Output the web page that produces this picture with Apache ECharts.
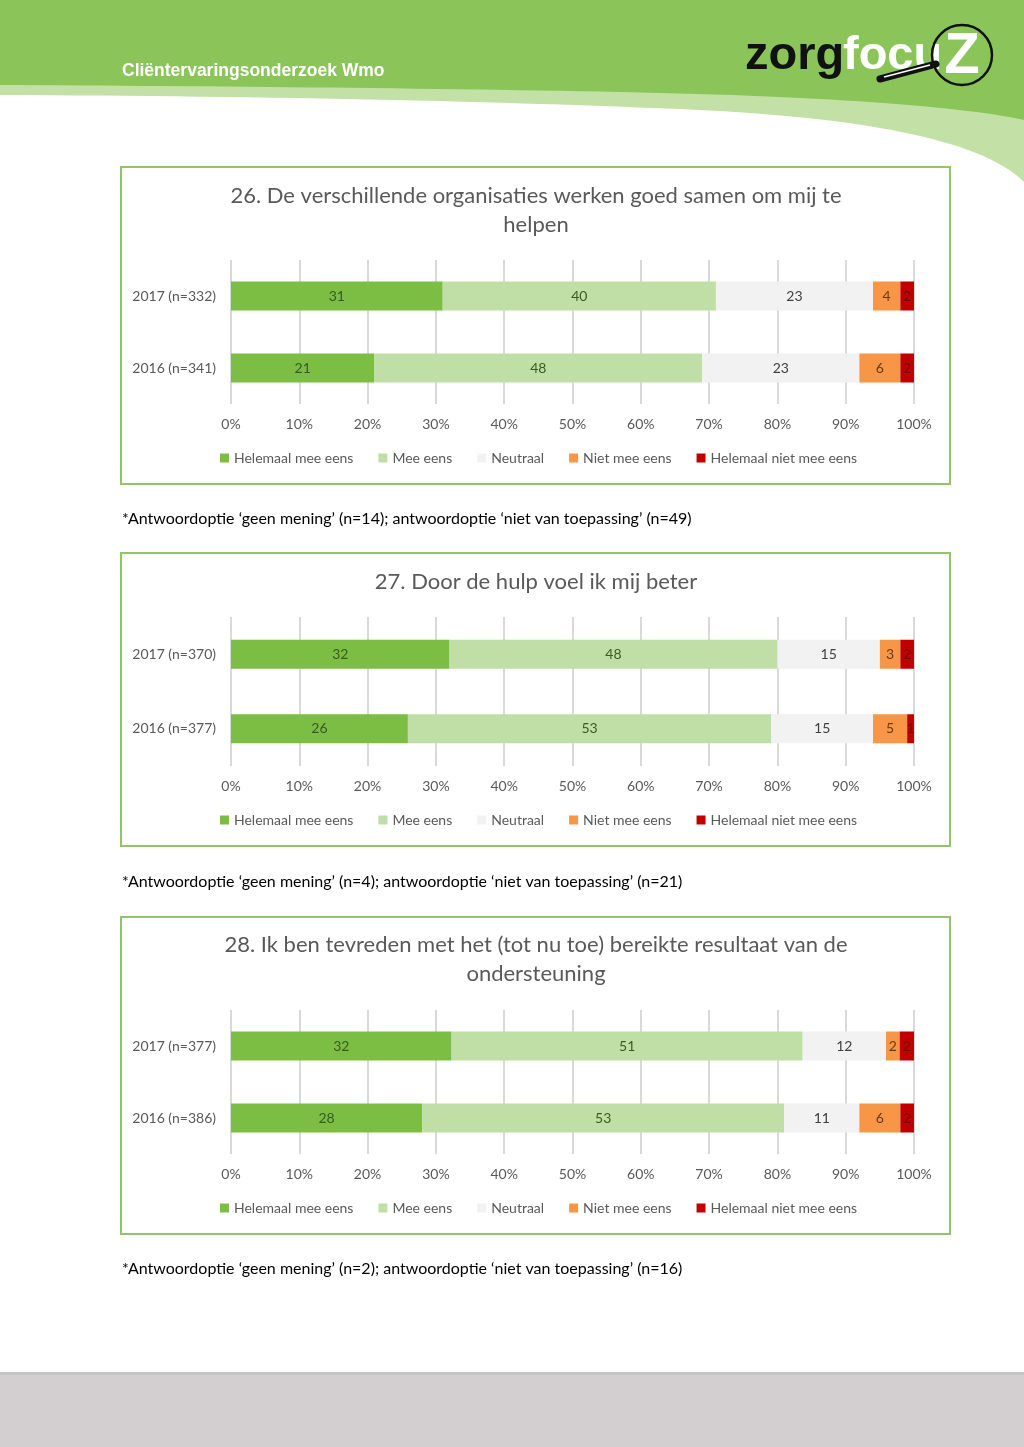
<!DOCTYPE html>
<html>
<head>
<meta charset="utf-8">
<script src="https://cdn.jsdelivr.net/npm/echarts@6/dist/echarts.min.js"></script>
<style>
  html, body { margin: 0; padding: 0; background: #ffffff; }
  #chart { width: 1024px; height: 1447px; }
</style>
</head>
<body>
<div id="chart"></div>
<script>
// ---------- DATA ----------
const seriesNames = ['Helemaal mee eens', 'Mee eens', 'Neutraal', 'Niet mee eens', 'Helemaal niet mee eens'];

const categories26 = ['2017 (n=332)', '2016 (n=341)'];
const values26_2017 = [31, 40, 23, 4, 2];
const values26_2016 = [21, 48, 23, 6, 2];

const categories27 = ['2017 (n=370)', '2016 (n=377)'];
const values27_2017 = [32, 48, 15, 3, 2];
const values27_2016 = [25.9, 53.2, 14.9, 5, 1];

const categories28 = ['2017 (n=377)', '2016 (n=386)'];
const values28_2017 = [32.3, 51.4, 12.2, 2.0, 2.1];
const values28_2016 = [28, 53, 11, 6, 2];

const xTickMin = 0;
const xTickMax = 100;
const xTickStep = 10;

const titles = [
  '26. De verschillende organisaties werken goed samen om mij te\nhelpen',
  '27. Door de hulp voel ik mij beter',
  '28. Ik ben tevreden met het (tot nu toe) bereikte resultaat van de\nondersteuning'
];
const notes = [
  '*Antwoordoptie \u2018geen mening\u2019 (n=14); antwoordoptie \u2018niet van toepassing\u2019 (n=49)',
  '*Antwoordoptie \u2018geen mening\u2019 (n=4); antwoordoptie \u2018niet van toepassing\u2019 (n=21)',
  '*Antwoordoptie \u2018geen mening\u2019 (n=2); antwoordoptie \u2018niet van toepassing\u2019 (n=16)'
];
const headerTitle = 'Cli\u00ebntervaringsonderzoek Wmo';

// ---------- STYLE / LAYOUT ----------
const FONT = 'Lato, "Open Sans", sans-serif';
const LOGO_FONT = 'bold 47px "Liberation Sans", Arial, sans-serif';
const colors = ['#7cbd44', '#bfdfa6', '#f2f2f2', '#f79646', '#c00000'];
const labelColors = ['#3a5a1f', '#3a5a1f', '#404040', '#6b3a12', '#7a0000'];
const charts = [
  { cats: categories26, v17: values26_2017, v16: values26_2016, gridTop: 260, gridBottom: 404, titleY: 210.5, legendY: 458, boxTop: 167, boxBottom: 484, noteY: 519 },
  { cats: categories27, v17: values27_2017, v16: values27_2016, gridTop: 617, gridBottom: 766, titleY: 582, legendY: 820, boxTop: 553, boxBottom: 846, noteY: 882 },
  { cats: categories28, v17: values28_2017, v16: values28_2016, gridTop: 1010, gridBottom: 1154, titleY: 959.5, legendY: 1208, boxTop: 917, boxBottom: 1234, noteY: 1269 }
];
const PAGE_H = 1447;
const GRID_LEFT = 231, GRID_RIGHT_X = 914;

// sample a cubic bezier into points (decorative header shape only)
function bez(p0, p1, p2, p3, n) {
  const pts = [];
  for (let k = 0; k <= n; k++) {
    const t = k / n, u = 1 - t;
    pts.push([
      u*u*u*p0[0] + 3*u*u*t*p1[0] + 3*u*t*t*p2[0] + t*t*t*p3[0],
      u*u*u*p0[1] + 3*u*u*t*p1[1] + 3*u*t*t*p2[1] + t*t*t*p3[1]
    ]);
  }
  return pts;
}
const lightShape = [[0, 0], [1024, 0]]
  .concat(bez([1024, 182], [990, 148], [900, 120], [700, 110], 30))
  .concat(bez([700, 110], [500, 101], [250, 96], [0, 95], 30));
const darkShape = [[0, 0], [1024, 0]]
  .concat(bez([1024, 120], [960, 106], [820, 96], [620, 92], 30))
  .concat(bez([620, 92], [420, 88], [200, 86], [0, 85], 30));

const grid = [], xAxis = [], yAxis = [], series = [], legend = [], graphic = [];

// header
graphic.push({ type: 'polygon', silent: true, shape: { points: lightShape }, style: { fill: '#c3e1a6' } });
graphic.push({ type: 'polygon', silent: true, shape: { points: darkShape }, style: { fill: '#8bc55a' } });
graphic.push({ type: 'text', silent: true, style: { text: headerTitle, x: 122, y: 71, fill: '#ffffff', font: 'bold 17.5px "Liberation Sans", Arial, sans-serif', textVerticalAlign: 'middle' } });
// logo
graphic.push({ type: 'text', silent: true, style: { text: 'zorg', x: 745, y: 56, fill: '#111111', font: LOGO_FONT, textVerticalAlign: 'middle' } });
graphic.push({ type: 'text', silent: true, style: { text: 'focu', x: 843, y: 56, fill: '#ffffff', font: LOGO_FONT, textVerticalAlign: 'middle' } });
graphic.push({ type: 'line', silent: true, shape: { x1: 880, y1: 79, x2: 936, y2: 64 }, style: { stroke: '#111111', lineWidth: 7, lineCap: 'round' } });
graphic.push({ type: 'line', silent: true, shape: { x1: 884, y1: 77, x2: 930, y2: 65 }, style: { stroke: '#ffffff', lineWidth: 1.5 } });
graphic.push({ type: 'text', silent: true, style: { text: 'Z', x: 962, y: 57, fill: '#ffffff', font: 'bold 58px "Liberation Sans", Arial, sans-serif', textAlign: 'center', textVerticalAlign: 'middle' } });
graphic.push({ type: 'circle', silent: true, shape: { cx: 962, cy: 55, r: 30 }, style: { fill: 'none', stroke: '#111111', lineWidth: 2.5 } });

// footer
graphic.push({ type: 'rect', silent: true, shape: { x: 0, y: 1373, width: 1024, height: PAGE_H - 1373 }, style: { fill: '#d3cfd0' } });
graphic.push({ type: 'rect', silent: true, shape: { x: 0, y: 1372, width: 1024, height: 3 }, style: { fill: '#c6c5c5' } });

charts.forEach((c, i) => {
  graphic.push({ type: 'rect', silent: true, shape: { x: 121, y: c.boxTop, width: 829, height: c.boxBottom - c.boxTop }, style: { fill: 'none', stroke: '#93c46c', lineWidth: 2 } });
  graphic.push({ type: 'text', silent: true, style: { text: titles[i], x: 536, y: c.titleY, fill: '#595959', font: '22px ' + FONT, textAlign: 'center', textVerticalAlign: 'middle', lineHeight: 29 } });
  graphic.push({ type: 'text', silent: true, style: { text: notes[i], x: 122, y: c.noteY, fill: '#000000', font: '16px ' + FONT, textVerticalAlign: 'middle' } });

  grid.push({ left: GRID_LEFT, right: 1024 - GRID_RIGHT_X, top: c.gridTop, height: c.gridBottom - c.gridTop, containLabel: false });
  xAxis.push({
    gridIndex: i, type: 'value', min: xTickMin, max: xTickMax, interval: xTickStep,
    axisLine: { show: false }, axisTick: { show: false },
    axisLabel: { formatter: '{value}%', color: '#595959', fontSize: 14, fontFamily: FONT, margin: 13 },
    splitLine: { show: true, lineStyle: { color: '#d9d9d9', width: 2 } }
  });
  yAxis.push({
    gridIndex: i, type: 'category', inverse: true, data: c.cats,
    axisLine: { show: false }, axisTick: { show: false },
    axisLabel: { color: '#595959', fontSize: 14, fontFamily: FONT, margin: 15 }
  });
  seriesNames.forEach((name, s) => {
    series.push({
      name, type: 'bar', stack: 'c' + i, xAxisIndex: i, yAxisIndex: i,
      barWidth: 29,
      data: [c.v17[s], c.v16[s]],
      itemStyle: { color: colors[s] },
      label: { show: true, position: 'inside', color: labelColors[s], fontSize: 14, fontFamily: FONT,
        formatter: p => String(Math.round(p.value)) },
      emphasis: { disabled: true }
    });
  });
  legend.push({
    data: seriesNames, left: 215, top: c.legendY - 12, icon: 'rect', itemWidth: 9, itemHeight: 9, itemGap: 25,
    textStyle: { color: '#595959', fontSize: 14, fontFamily: FONT }, selectedMode: false
  });
});

const chart = echarts.init(document.getElementById('chart'), null, { width: 1024, height: PAGE_H });
chart.setOption({
  animation: false,
  backgroundColor: '#ffffff',
  textStyle: { fontFamily: FONT },
  grid, xAxis, yAxis, series, legend, graphic
});
</script>
</body>
</html>
